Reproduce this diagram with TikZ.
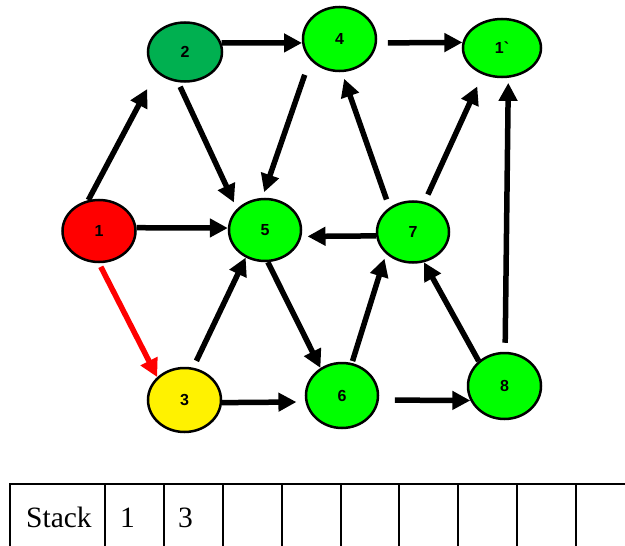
\documentclass[tikz,border=0pt]{standalone}
\usepackage{fontspec}
\setmainfont{Liberation Serif}
\newfontfamily\arialfont{Liberation Sans}
\usetikzlibrary{shapes.geometric,arrows.meta}
\definecolor{brightgreen}{RGB}{0,255,0}
\definecolor{darkgreen}{RGB}{0,176,80}
\begin{document}
\begin{tikzpicture}[x=1pt,y=-1pt,
  vert/.style={ellipse,draw,line width=2.5pt,inner sep=0pt,
    font=\arialfont\bfseries\fontsize{16}{16}\selectfont},
  edge/.style={line width=5.5pt,-{Triangle[length=18pt,width=18pt]}},
  tabline/.style={line width=2pt},
  tabtext/.style={anchor=base west,inner sep=0pt,font=\fontsize{29.5}{30}\selectfont}]
\path[use as bounding box] (0,0) rectangle (625,546);
\clip (0,0) rectangle (625,546);
% nodes
\node[vert,fill=red,minimum width=73pt,minimum height=62pt] (n1) at (99,231) {1};
\node[vert,fill=darkgreen,minimum width=74pt,minimum height=59pt] (n2) at (185,52) {2};
\node[vert,fill=brightgreen,minimum width=73pt,minimum height=64pt] (n4) at (339.5,39) {4};
\node[vert,fill=brightgreen,minimum width=78pt,minimum height=58pt] (n1p) at (502,48) {1\textasciigrave};
\node[vert,fill=brightgreen,minimum width=72pt,minimum height=62pt] (n5) at (265,230) {5};
\node[vert,fill=brightgreen,minimum width=72pt,minimum height=61pt] (n7) at (413,232) {7};
\node[vert,fill=yellow,minimum width=73pt,minimum height=64pt] (n3) at (184.5,400) {3};
\node[vert,fill=brightgreen,minimum width=72pt,minimum height=65pt] (n6) at (342,395.5) {6};
\node[vert,fill=brightgreen,minimum width=73pt,minimum height=66pt] (n8) at (504.5,386) {8};
% edges
\draw[edge,shorten >=19pt] (n1.109) -- (n2.215);
\draw[edge] (n1.5) -- (n5.177);
\draw[edge,red,shorten <=4pt] (n1.270) -- (n3.140);
\draw[edge] (n2.14) -- (n4.186);
\draw[edge,shorten <=5pt,shorten >=7pt] (n2.257) -- (n5.143);
\draw[edge,shorten <=11pt] (n4.-6) -- (n1p.172);
\draw[edge,shorten <=16pt,shorten >=6pt] (n4.215) -- (n5.95);
\draw[edge,shorten <=7.5pt] (n3.75) -- (n5.235);
\draw[edge] (n5.275) -- (n6.128);
\draw[edge,shorten >=9pt] (n3.-4) -- (n6.190);
\draw[edge,shorten <=2pt,shorten >=5pt] (n6.73) -- (n7.219);
\draw[edge,shorten <=16pt] (n6.-7) -- (n8.203);
\draw[edge,shorten >=6pt] (n7.186) -- (n5.-10);
\draw[edge,shorten <=8.5pt,shorten >=7pt] (n7.134) -- (n4.274);
\draw[edge,shorten <=8pt,shorten >=13pt] (n7.69) -- (n1p.234);
\draw[edge] (n8.136) -- (n7.290);
\draw[edge,shorten <=9pt,shorten >=5pt] (n8.89.5) -- (n1p.282);
% stack table
\draw[tabline] (10,560) -- (10,484) -- (630,484);
\foreach \cx in {105,164,222.7,281.6,340.5,399.4,458.3,517.2,576.1}
  \draw[tabline] (\cx,484) -- (\cx,560);
\node[tabtext] (stk) at (26,527) {Stack};
\node[tabtext] (tone) at (120,527) {1};
\node[tabtext] (tthree) at (178,527) {3};
\end{tikzpicture}
\end{document}
